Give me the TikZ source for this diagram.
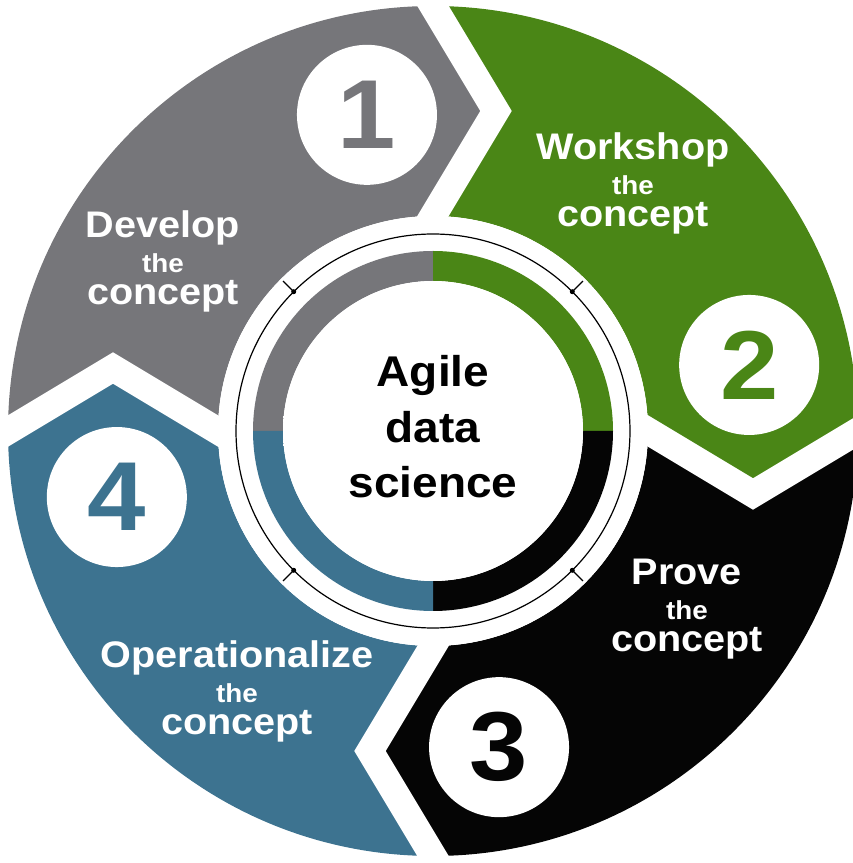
\documentclass[tikz,border=0pt]{standalone}
\usepackage{fontspec}
\newfontfamily\labelfont{Liberation Sans}[FakeStretch=1.07]
\definecolor{stepgray}{HTML}{76767A}
\definecolor{stepgreen}{HTML}{4A8616}
\definecolor{stepblack}{HTML}{050505}
\definecolor{stepblue}{HTML}{3D7390}
\pgfdeclareradialshading{hubshade}{\pgfpoint{0bp}{0bp}}{color(0bp)=(white); color(30bp)=(white); color(50bp)=(black!10)}

\begin{document}
\begin{tikzpicture}[x=1pt, y=1pt,
  steptext/.style={text=white, anchor=base, inner sep=0pt,
    font=\labelfont\bfseries\fontsize{37}{37}\selectfont},
  thetext/.style={steptext, font=\labelfont\bfseries\fontsize{26}{26}\selectfont},
  hubtext/.style={text=black, anchor=base, inner sep=0pt,
    font=\labelfont\bfseries\fontsize{43}{43}\selectfont},
  numtext/.style={inner sep=0pt, font=\labelfont\bfseries\fontsize{98}{98}\selectfont}]

  \useasboundingbox (0,0) rectangle (853,863);

  \begin{scope}[shift={(433,432)}]
    % outer segments
    \foreach \a/\col in {90/stepgray, 0/stepgreen, -90/stepblack, 180/stepblue}
      \fill[\col] (\a:425) arc[start angle=\a, end angle=\a+90, radius=425]
        -- ([shift={(\a:63)}]\a+90:320) -- (\a+90:215)
        arc[start angle=\a+90, end angle=\a, radius=215]
        -- ([shift={(\a-90:63)}]\a:320) -- cycle;

    % white gaps between the segments
    \foreach \b in {0, 90, 180, 270}
      \draw[white, line width=27pt, line join=miter]
        ([shift={(\b+90:31.5)}]\b:477.5) -- ([shift={(\b-90:63)}]\b:320)
        -- ([shift={(\b+90:31.5)}]\b:162.5);
    \fill[white] (0,0) circle[radius=215];

    % thin ring and ticks
    \draw[line width=1.2pt] (0,0) circle[radius=197];
    \foreach \t in {45, 135, 225, 315} {
      \draw[line width=1.2pt] (\t:197) -- (\t:212);
      \fill (\t:197) circle[radius=2.5];
    }

    % inner ring
    \foreach \a/\col in {90/stepgray, 0/stepgreen, -90/stepblack, 180/stepblue}
      \fill[\col] (\a:180) arc[start angle=\a, end angle=\a+90, radius=180]
        -- (\a+90:150) arc[start angle=\a+90, end angle=\a, radius=150] -- cycle;

    % hub
    \shade[shading=hubshade] (0,0) circle[radius=150];

    % number badges
    \foreach \a/\col/\n in {90/stepgray/1, 0/stepgreen/2, -90/stepblack/3, 180/stepblue/4} {
      \fill[white] (\a+11.8:323) circle[radius=70];
      \node[numtext, text=\col] (num\n) at (\a+11.8:323) {\n};
    }
  \end{scope}

  % hub text
  \node[hubtext] (hub1) at (433,476) {Agile};
  \node[hubtext] (hub2) at (433,420) {data};
  \node[hubtext] (hub3) at (433,365) {science};

  % step labels
  \node[steptext] (dev1) at (163,625) {Develop};
  \node[thetext]  (dev2) at (163,590) {the};
  \node[steptext] (dev3) at (163,558) {concept};

  \node[steptext] (work1) at (633,703) {Workshop};
  \node[thetext]  (work2) at (633,668) {the};
  \node[steptext] (work3) at (633,636) {concept};

  \node[steptext] (prove1) at (687,278) {Prove};
  \node[thetext]  (prove2) at (687,243) {the};
  \node[steptext] (prove3) at (687,211) {concept};

  \node[steptext] (oper1) at (237,195) {Operationalize};
  \node[thetext]  (oper2) at (237,160) {the};
  \node[steptext] (oper3) at (237,128) {concept};
\end{tikzpicture}
\end{document}
